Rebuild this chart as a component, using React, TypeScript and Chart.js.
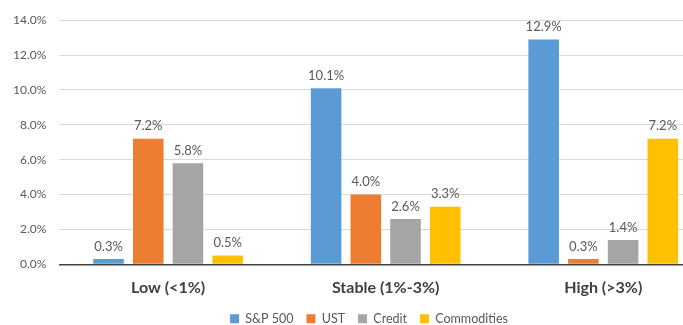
import React, { useEffect, useRef } from "react";
import { Chart, registerables } from "chart.js";

Chart.register(...registerables);

const categories = ["Low (<1%)", "Stable (1%-3%)", "High (>3%)"];
const seriesNames = ["S&P 500", "UST", "Credit", "Commodities"];
const sp500 = [0.3, 10.1, 12.9];
const ust = [7.2, 4.0, 0.3];
const credit = [5.8, 2.6, 1.4];
const commodities = [0.5, 3.3, 7.2];
const colors = ["#5B9BD5", "#ED7D31", "#A5A5A5", "#FFC000"];
const yTicks = [0, 2, 4, 6, 8, 10, 12, 14];

const FONT = "Lato, 'Open Sans', sans-serif";

const labelPlugin = {
  id: "barLabels",
  afterLayout(chart: any) {
    const lg = chart.legend;
    if (lg) {
      lg.top -= 4;
      lg.bottom -= 4;
      lg.left += 13;
      lg.right += 13;
    }
  },
  afterDatasetsDraw(chart: any) {
    const ctx = chart.ctx;
    ctx.save();
    ctx.font = `13px ${FONT}`;
    ctx.fillStyle = "#595959";
    ctx.textAlign = "center";
    ctx.textBaseline = "bottom";
    chart.data.datasets.forEach((ds: any, i: number) => {
      const meta = chart.getDatasetMeta(i);
      meta.data.forEach((bar: any, j: number) => {
        ctx.fillText(ds.data[j].toFixed(1) + "%", bar.x, bar.y - 6);
      });
    });
    ctx.restore();
  },
};

export default function App() {
  const ref = useRef<HTMLCanvasElement>(null);
  useEffect(() => {
    if (!ref.current) return;
    const allData = [sp500, ust, credit, commodities];
    const chart = new Chart(ref.current, {
      type: "bar",
      data: {
        labels: categories,
        datasets: seriesNames.map((name, i) => ({
          label: name,
          data: allData[i],
          backgroundColor: colors[i],
          categoryPercentage: 0.73,
          barPercentage: 0.77,
        })),
      },
      options: {
        animation: false,
        responsive: false,
        maintainAspectRatio: false,
        layout: { padding: { top: 12, right: 0, left: 0, bottom: 2 } },
        plugins: {
          legend: {
            position: "bottom",
            labels: {
              boxWidth: 9,
              boxHeight: 9,
              padding: 13,
              color: "#595959",
              font: { family: FONT, size: 12.5 },
            },
          },
          tooltip: { enabled: false },
        },
        scales: {
          x: {
            grid: { display: false },
            border: { display: true, color: "#404040", width: 1.5 },
            ticks: {
              color: "#404040",
              font: { family: FONT, size: 16, weight: "bold" as any },
              padding: 6,
            },
          },
          y: {
            min: 0,
            max: 14,
            afterBuildTicks: (axis: any) => {
              axis.ticks = yTicks.map((v) => ({ value: v }));
            },
            border: { display: false },
            grid: {
              color: (c: any) => (c.tick && c.tick.value === 0 ? "transparent" : "#D9D9D9"),
              drawTicks: false,
            },
            ticks: {
              color: "#595959",
              font: { family: FONT, size: 12 },
              padding: 13,
              callback: (v: any) => Number(v).toFixed(1) + "%",
            },
          },
        },
      },
      plugins: [labelPlugin],
    });
    return () => chart.destroy();
  }, []);
  return (
    <div style={{ position: "fixed", left: 0, top: 0, width: 683, height: 325, overflow: "hidden", background: "#fff" }}>
      <canvas ref={ref} width={712} height={341} style={{ display: "block" }} />
    </div>
  );
}
